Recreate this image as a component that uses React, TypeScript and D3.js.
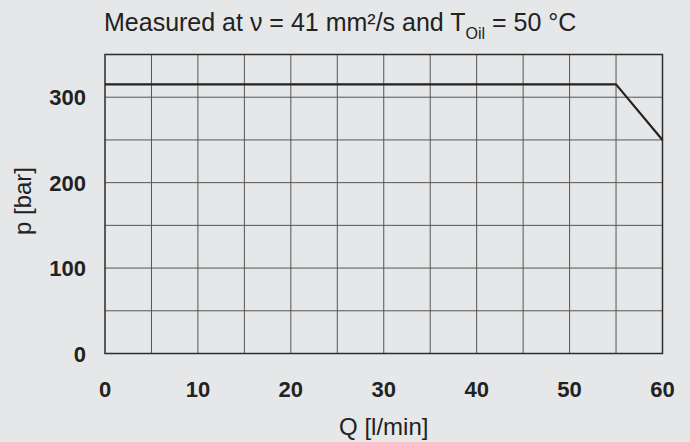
import * as d3 from 'd3';
import React, { useEffect } from 'react';

const flowQ = [0, 55, 60];
const pressureP = [315, 315, 250];
const xTicks = [0, 10, 20, 30, 40, 50, 60];
const yTicks = [0, 100, 200, 300];
const xGrid = d3.range(5, 60, 5);
const yGrid = d3.range(50, 350, 50);

const width = 690;
const height = 442;
const margin = { top: 54.5, right: 27.5, bottom: 88.5, left: 105 };
const font = '"Liberation Sans", Arial, Helvetica, sans-serif';

function App() {
  useEffect(() => {
    document.body.style.margin = '0';
  }, []);

  const x = d3.scaleLinear().domain([0, 60]).range([margin.left, width - margin.right]);
  const y = d3.scaleLinear().domain([0, 350]).range([height - margin.bottom, margin.top]);
  const line = d3
    .line<number>()
    .x((d) => x(d))
    .y((_, i) => y(pressureP[i]));

  return (
    <svg width={width} height={height} style={{ display: 'block', background: '#e6e7e8' }} fontFamily={font}>
      <rect width={width} height={height} fill="#e6e7e8" />
      {/* grid */}
      {xGrid.map((v) => (
        <line key={'gx' + v} x1={x(v)} x2={x(v)} y1={y(0)} y2={y(350)} stroke="#555" strokeWidth={1} />
      ))}
      {yGrid.map((v) => (
        <line key={'gy' + v} x1={x(0)} x2={x(60)} y1={y(v)} y2={y(v)} stroke="#555" strokeWidth={1} />
      ))}
      <rect
        x={x(0)}
        y={y(350)}
        width={x(60) - x(0)}
        height={y(0) - y(350)}
        fill="none"
        stroke="#2b2b2b"
        strokeWidth={1.5}
      />
      <path d={line(flowQ) || ''} fill="none" stroke="#222" strokeWidth={2.2} strokeLinejoin="round" />
      {/* tick labels */}
      {xTicks.map((v) => (
        <text key={'tx' + v} x={x(v)} y={y(0) + 43} textAnchor="middle" fontSize={22} fontWeight="bold" fill="#222">
          {v}
        </text>
      ))}
      {yTicks.map((v) => (
        <text key={'ty' + v} x={86} y={y(v) + 8} textAnchor="end" fontSize={22} fontWeight="bold" fill="#222">
          {v}
        </text>
      ))}
      {/* axis labels */}
      <text x={(x(0) + x(60)) / 2} y={435} textAnchor="middle" fontSize={24} fill="#222">
        Q [l/min]
      </text>
      <text transform={`translate(31, ${(y(0) + y(350)) / 2 - 3}) rotate(-90)`} textAnchor="middle" fontSize={24} fill="#222">
        p [bar]
      </text>
      {/* title */}
      <text x={104} y={30.5} fontSize={25} fill="#222">
        Measured at ν = 41 mm²/s and T
        <tspan dy={8} fontSize={16}>
          Oil
        </tspan>
        <tspan dy={-8} fontSize={25}>
          {' '}= 50 °C
        </tspan>
      </text>
    </svg>
  );
}

export default App;
